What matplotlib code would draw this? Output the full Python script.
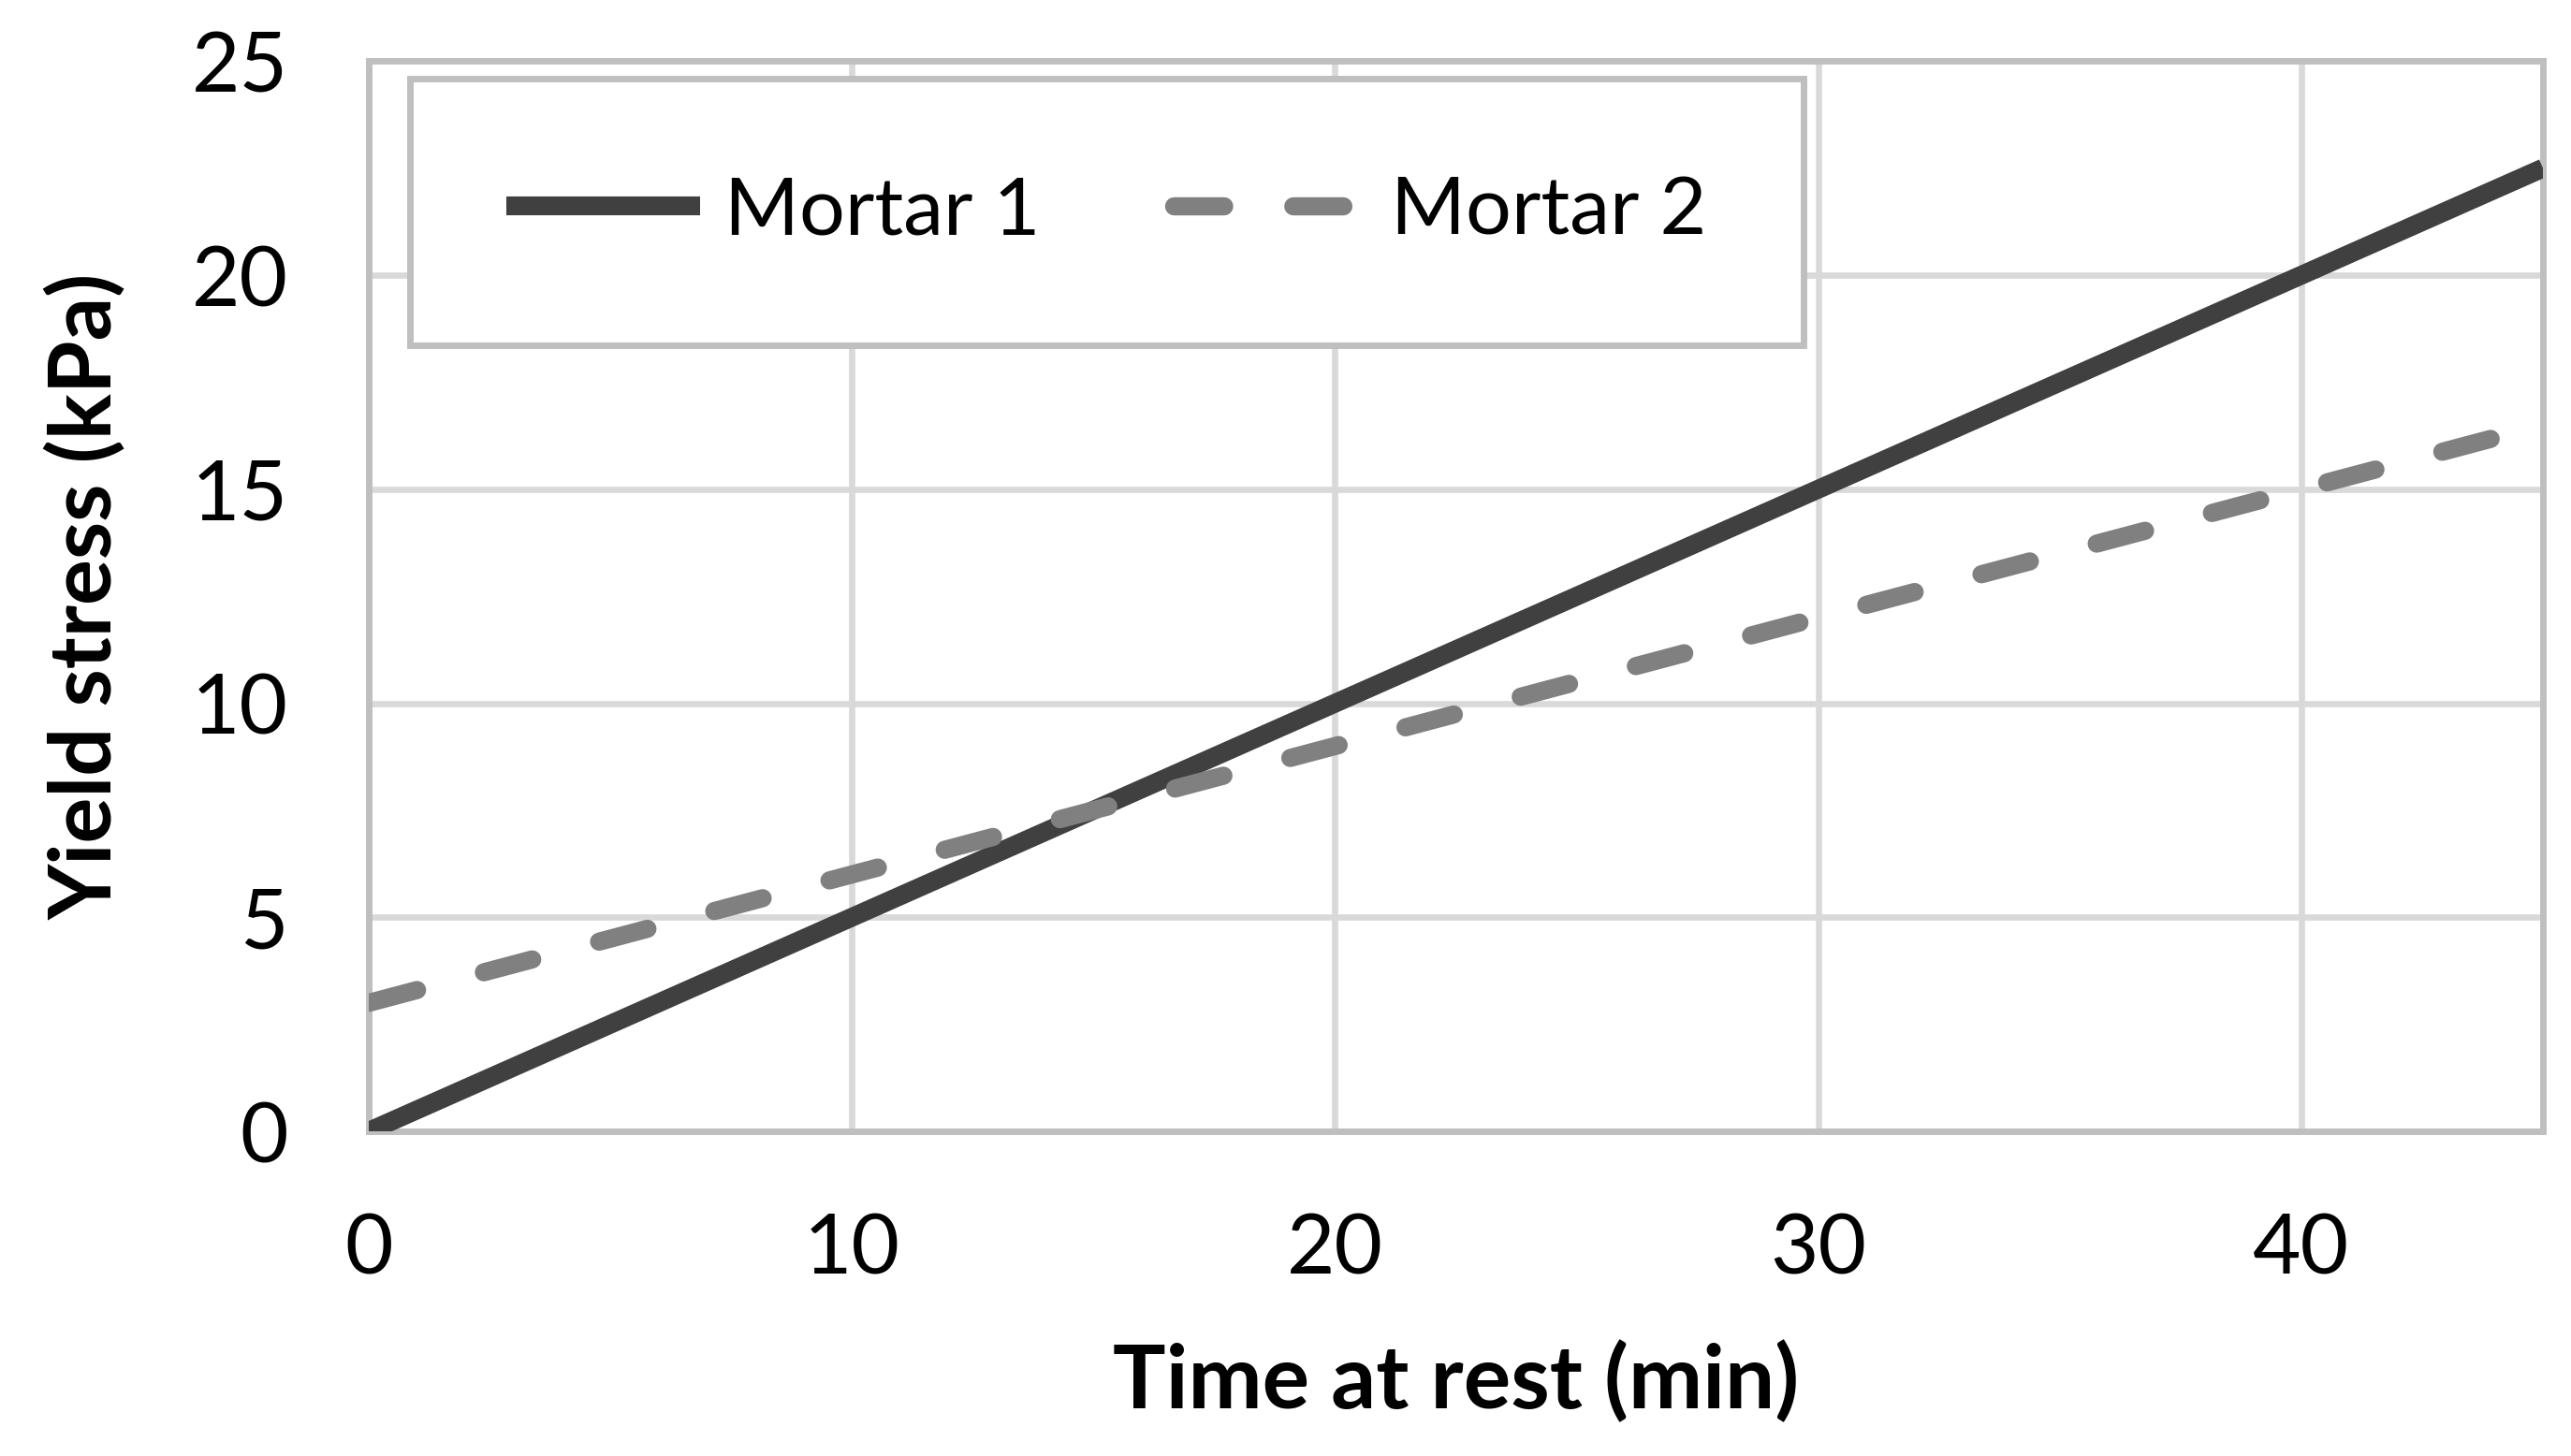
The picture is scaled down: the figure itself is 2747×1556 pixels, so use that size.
import matplotlib
matplotlib.use('Agg')
import matplotlib.pyplot as plt

# data
time_min = [0, 45]
mortar1 = [0, 22.5]
mortar2 = [3, 16.5]
xticks = [0, 10, 20, 30, 40]
yticks = [0, 5, 10, 15, 20, 25]

plt.rcParams['font.family'] = ['Lato', 'DejaVu Sans']

fig = plt.figure(figsize=(27.47, 15.56), dpi=100)
ax = fig.add_axes([0.1434, 0.223, 0.8457, 0.735])

ax.plot(time_min, mortar1, color='#404040', lw=14.5, solid_capstyle='butt', label='Mortar 1', zorder=3)
ax.plot(time_min, mortar2, color='#808080', lw=14, dashes=(2.75, 3.8),
        dash_capstyle='round', label='Mortar 2', zorder=3)

ax.set_xlim(0, 45)
ax.set_ylim(0, 25)
ax.set_xticks(xticks)
ax.set_yticks(yticks)
ax.grid(True, color='#D9D9D9', lw=4.8)
ax.set_axisbelow(True)
for s in ax.spines.values():
    s.set_color('#BFBFBF')
    s.set_linewidth(5)
ax.tick_params(length=0, labelsize=64, pad=62)

ax.set_xlabel('Time at rest (min)', fontsize=68, fontweight='bold', labelpad=40)
ax.set_ylabel('Yield stress (kPa)', fontsize=66, fontweight='bold', labelpad=50)

leg = ax.legend(loc='center', bbox_to_anchor=(0.019, 0.733, 0.641, 0.252), ncol=2,
                mode='expand', borderpad=1.2, borderaxespad=0,
                fontsize=62, fancybox=False, framealpha=1, edgecolor='#BFBFBF',
                handlelength=2.4, handletextpad=0.3, columnspacing=1.4)
leg.get_frame().set_linewidth(5)

fig.savefig('out.png', dpi=100)
